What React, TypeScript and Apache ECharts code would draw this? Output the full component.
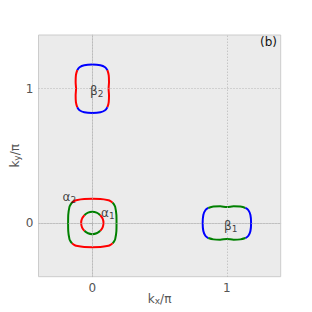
import React, { useEffect, useRef } from "react";
import * as echarts from "echarts";

const xTicks = [0, 1];
const yTicks = [0, 1];

// alpha1: small circle around (0,0)
const alpha1Top = [[-0.0587, 0.0587], [-0.0318, 0.0767], [0, 0.083], [0.0318, 0.0767], [0.0587, 0.0587]];
const alpha1Right = [[0.0587, 0.0587], [0.0767, 0.0318], [0.083, 0], [0.0767, -0.0318], [0.0587, -0.0587]];
const alpha1Bottom = [[0.0587, -0.0587], [0.0318, -0.0767], [0, -0.083], [-0.0318, -0.0767], [-0.0587, -0.0587]];
const alpha1Left = [[-0.0587, -0.0587], [-0.0767, -0.0318], [-0.083, 0], [-0.0767, 0.0318], [-0.0587, 0.0587]];

// alpha2: rounded square around (0,0)
const alpha2Top = [[-0.151, 0.151], [-0.135, 0.163], [-0.12, 0.170], [-0.06, 0.179], [0, 0.180], [0.06, 0.179], [0.12, 0.170], [0.135, 0.163], [0.151, 0.151]];
const alpha2Right = [[0.151, 0.151], [0.163, 0.135], [0.170, 0.12], [0.179, 0.06], [0.180, 0], [0.179, -0.06], [0.170, -0.12], [0.163, -0.135], [0.151, -0.151]];
const alpha2Bottom = [[0.151, -0.151], [0.135, -0.163], [0.12, -0.170], [0.06, -0.179], [0, -0.180], [-0.06, -0.179], [-0.12, -0.170], [-0.135, -0.163], [-0.151, -0.151]];
const alpha2Left = [[-0.151, -0.151], [-0.163, -0.135], [-0.170, -0.12], [-0.179, -0.06], [-0.180, 0], [-0.179, 0.06], [-0.170, 0.12], [-0.163, 0.135], [-0.151, 0.151]];

// beta2: vertical pocket around (0,1)
const beta2Top = [[-0.112, 1.138], [-0.095, 1.160], [-0.06, 1.175], [0, 1.18], [0.06, 1.175], [0.095, 1.160], [0.112, 1.138]];
const beta2Right = [[0.112, 1.138], [0.122, 1.10], [0.124, 1.05], [0.121, 1.0], [0.124, 0.95], [0.122, 0.90], [0.112, 0.862]];
const beta2Bottom = [[0.112, 0.862], [0.095, 0.840], [0.06, 0.825], [0, 0.82], [-0.06, 0.825], [-0.095, 0.840], [-0.112, 0.862]];
const beta2Left = [[-0.112, 0.862], [-0.122, 0.90], [-0.124, 0.95], [-0.121, 1.0], [-0.124, 1.05], [-0.122, 1.10], [-0.112, 1.138]];

// beta1: horizontal pocket around (1,0)
const beta1Left = [[0.862, 0.112], [0.840, 0.095], [0.825, 0.06], [0.82, 0], [0.825, -0.06], [0.840, -0.095], [0.862, -0.112]];
const beta1Top = [[0.862, 0.112], [0.90, 0.122], [0.95, 0.124], [1.0, 0.119], [1.05, 0.124], [1.10, 0.122], [1.138, 0.112]];
const beta1Right = [[1.138, 0.112], [1.160, 0.095], [1.175, 0.06], [1.18, 0], [1.175, -0.06], [1.16, -0.095], [1.138, -0.112]];
const beta1Bottom = [[1.138, -0.112], [1.10, -0.122], [1.05, -0.124], [1.0, -0.119], [0.95, -0.124], [0.90, -0.122], [0.862, -0.112]];

const labelNames = ["β_2", "β_1", "α_2", "α_1"];
const labelPositions = [[-0.017, 0.983], [0.979, -0.02], [-0.222, 0.196], [0.065, 0.074]];

const RED = "#ff0000";
const GREEN = "#008000";
const BLUE = "#0000ff";

export default function App() {
  const ref = useRef<HTMLDivElement>(null);
  useEffect(() => {
    document.body.style.margin = "0";
    if (!ref.current) return;
    const chart = echarts.init(ref.current, null, { renderer: "svg" });
    const seg = (data: number[][], color: string) => ({
      type: "line",
      data,
      smooth: 0.35,
      showSymbol: false,
      symbol: "none",
      lineStyle: { color, width: 2 },
      silent: true,
      z: 3,
    });
    const segments: any[] = [
      seg(alpha1Top, GREEN), seg(alpha1Right, RED), seg(alpha1Bottom, GREEN), seg(alpha1Left, RED),
      seg(alpha2Top, RED), seg(alpha2Right, GREEN), seg(alpha2Bottom, RED), seg(alpha2Left, GREEN),
      seg(beta2Top, BLUE), seg(beta2Right, RED), seg(beta2Bottom, BLUE), seg(beta2Left, RED),
      seg(beta1Left, BLUE), seg(beta1Top, GREEN), seg(beta1Right, BLUE), seg(beta1Bottom, GREEN),
    ];
    const gridLineStyle = { color: "#b4b4b4", type: [1, 2], width: 1 };
    const gridSeries = {
      type: "line",
      data: [],
      silent: true,
      z: 1,
      markLine: {
        silent: true,
        symbol: "none",
        label: { show: false },
        lineStyle: gridLineStyle,
        data: [
          ...xTicks.map((v) => ({ xAxis: v })),
          ...yTicks.map((v) => ({ yAxis: v })),
        ],
      },
    };
    const rich = {
      m: { fontSize: 12, color: "#111", fontFamily: "DejaVu Sans" },
      s: { fontSize: 9, color: "#111", fontFamily: "DejaVu Sans", padding: [6, 0, 0, 0] },
    };
    const labelSeries = {
      type: "scatter",
      symbolSize: 0.1,
      z: 5,
      data: labelPositions.map((p, i) => ({ value: p, name: labelNames[i] })),
      label: {
        show: true,
        position: "right",
        distance: 0,
        formatter: (params: any) => {
          const [a, b] = params.name.split("_");
          return `{m|${a}}{s|${b}}`;
        },
        rich,
      },
    };
    const axisRich = {
      m: { fontSize: 12, color: "#555", fontFamily: "DejaVu Sans" },
      s: { fontSize: 9, color: "#555", fontFamily: "DejaVu Sans", padding: [5, 0, 0, 0] },
    };
    const axisCommon = {
      type: "value",
      min: -0.4,
      max: 1.4,
      axisLine: { show: true, lineStyle: { color: "#cccccc", width: 1 } },
      splitLine: { show: false },
    };
    const labelCommon = {
      fontSize: 12,
      color: "#555",
      fontFamily: "DejaVu Sans",
      formatter: (v: number) => String(v),
    };
    const tickCommon = {
      show: true,
      inside: false,
      length: 3,
      lineStyle: { color: "#b4b4b4", width: 1 },
    };
    chart.setOption({
      animation: false,
      backgroundColor: "#ffffff",
      grid: {
        left: 38.5,
        right: 31.3,
        top: 35,
        bottom: 35.3,
        show: true,
        backgroundColor: "#ebebeb",
        borderColor: "#cccccc",
        borderWidth: 1,
        containLabel: false,
        outerBoundsMode: "none",
      },
      xAxis: {
        ...axisCommon,
        axisTick: { ...tickCommon, customValues: xTicks },
        axisLabel: { ...labelCommon, customValues: xTicks, margin: 5 },
        name: "{m|k}{s|x}{m|/π}",
        nameLocation: "middle",
        nameGap: 15,
        nameMoveOverlap: false,
        nameTextStyle: { rich: axisRich },
      },
      yAxis: {
        ...axisCommon,
        axisTick: { ...tickCommon, customValues: yTicks },
        axisLabel: { ...labelCommon, customValues: yTicks, margin: 5 },
        name: "{m|k}{s|y}{m|/π}",
        nameLocation: "middle",
        nameGap: 17,
        nameRotate: 90,
        nameMoveOverlap: false,
        nameTextStyle: { rich: axisRich },
      },
      graphic: [
        {
          type: "text",
          left: 260,
          top: 36,
          style: { text: "(b)", fontSize: 12, fill: "#111", fontFamily: "DejaVu Sans" },
          z: 10,
        },
      ],
      series: [gridSeries, ...segments, labelSeries],
    });
    return () => chart.dispose();
  }, []);
  return <div ref={ref} style={{ width: 312, height: 312 }} />;
}
